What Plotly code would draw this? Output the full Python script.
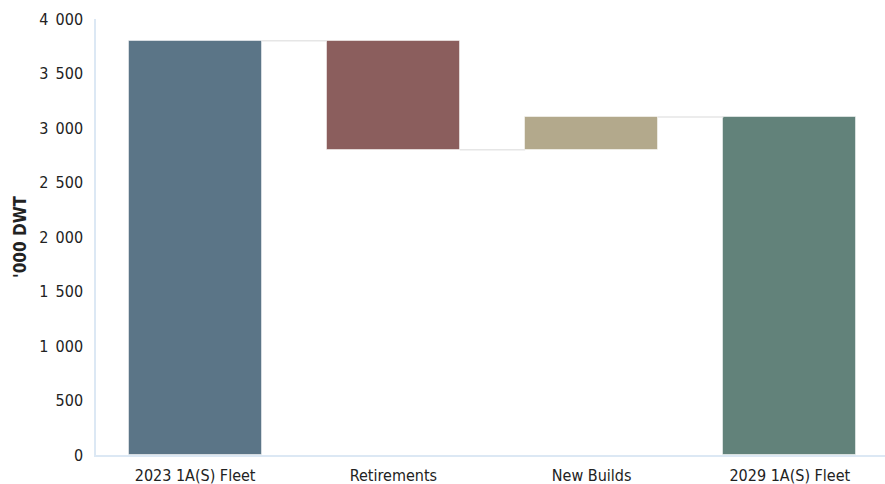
import plotly.graph_objects as go

categories = ["2023 1A(S) Fleet", "Retirements", "New Builds", "2029 1A(S) Fleet"]
values = [3800, -1000, 300, 3100]
kinds = ["absolute", "relative", "relative", "total"]
colors = ["#5b7587", "#8b5e5d", "#b3a98c", "#62827a"]
ytick_vals = [0, 500, 1000, 1500, 2000, 2500, 3000, 3500, 4000]
ytick_text = ["0", "500", "1\u2002000", "1\u2002500", "2\u2002000", "2\u2002500", "3\u2002000", "3\u2002500", "4\u2002000"]

# compute bases and heights
bases, heights, levels = [], [], []
level = 0
for v, k in zip(values, kinds):
    if k == "absolute":
        bases.append(0); heights.append(v); level = v
    elif k == "total":
        bases.append(0); heights.append(level)
    else:
        new = level + v
        bases.append(min(level, new)); heights.append(abs(v)); level = new
    levels.append(level)

x = list(range(len(categories)))
width = 0.67
font = "DejaVu Sans Condensed, Liberation Sans Narrow, Arial Narrow, sans-serif"

fig = go.Figure()
fig.add_trace(go.Bar(x=x, y=heights, base=bases, width=width,
                     marker=dict(color=colors, line=dict(color="rgba(255,255,255,0.5)", width=1)),
                     showlegend=False, hoverinfo="skip"))
cx, cy = [], []
for i in range(len(x) - 1):
    cx += [x[i] + width / 2, x[i + 1] - width / 2, None]
    cy += [levels[i], levels[i], None]
fig.add_trace(go.Scatter(x=cx, y=cy, mode="lines", line=dict(color="#e6e6e6", width=1.5),
                         showlegend=False, hoverinfo="skip"))

fig.update_layout(
    width=885, height=484,
    margin=dict(l=96, r=0, t=19, b=29),
    plot_bgcolor="white", paper_bgcolor="white",
    font=dict(family=font, size=15, color="#222"),
    xaxis=dict(tickmode="array", tickvals=x, ticktext=categories, range=[-0.5, 3.48],
               showgrid=False, zeroline=False, showline=True, linecolor="#dce8f4", linewidth=1.5,
               ticks="", ticklabelstandoff=5, tickfont=dict(size=16, family=font)),
    yaxis=dict(tickmode="array", tickvals=ytick_vals, ticktext=ytick_text, range=[0, 4000],
               showgrid=False, zeroline=False, showline=True, linecolor="#dce8f4", linewidth=1.5,
               ticks="", ticklabelstandoff=8, tickfont=dict(size=16, family=font),
               title=dict(text="<b>'000 DWT</b>", font=dict(size=17, family=font), standoff=8)),
    bargap=0,
)
fig.write_html("out.html")
